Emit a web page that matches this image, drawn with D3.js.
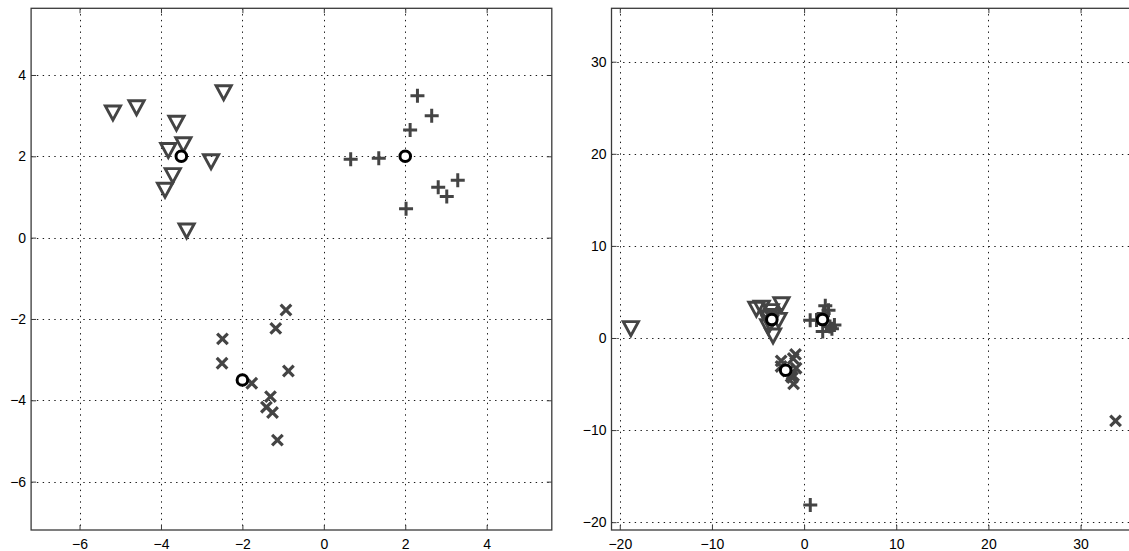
<!DOCTYPE html>
<html>
<head>
<meta charset="utf-8">
<script src="https://cdn.jsdelivr.net/npm/d3@7"></script>
<style>
  html, body { margin: 0; padding: 0; background: #fff; }
  svg { display: block; }
  .tick text { font-family: "Liberation Sans", Arial, Helvetica, sans-serif; font-size: 14px; fill: #000; }
</style>
</head>
<body>
<svg id="fig" width="1129" height="551"></svg>
<script>
// Class 1 samples (downward triangles)
const triX = [-5.18, -4.60, -2.46, -3.62, -3.45, -3.82, -2.77, -3.71, -3.90, -3.37, -18.8];
const triY = [3.05, 3.18, 3.55, 2.80, 2.27, 2.13, 1.85, 1.51, 1.15, 0.15, 0.95];
// Class 2 samples (plus signs)
const plusX = [2.30, 2.65, 2.12, 0.66, 1.35, 3.29, 2.81, 3.02, 2.02, 0.67];
const plusY = [3.49, 3.00, 2.65, 1.93, 1.95, 1.41, 1.24, 1.01, 0.71, -18.13];
// Class 3 samples (crosses)
const crossX = [-0.93, -1.18, -2.49, -2.50, -0.87, -1.77, -1.31, -1.41, -1.26, -1.14, 33.8];
const crossY = [-1.78, -2.23, -2.49, -3.09, -3.28, -3.58, -3.91, -4.17, -4.30, -4.98, -9.0];
// Cluster centres (circles)
const centerX = [-3.5, 2, -2];
const centerY = [2, 2, -3.5];
// Tick values
const leftTicks = [-6, -4, -2, 0, 2, 4];
const rightTicks = [-20, -10, 0, 10, 20, 30];

const svg = d3.select("#fig");
const markColor = "#444444";
const axisColor = "#3a3a3a";

const zip = (xs, ys) => xs.map((v, i) => [v, ys[i]]);

const symbols = {
  tri: "M-7.6,-7.6L7.6,-7.6L0,6.4Z",
  plus: "M-7,0H7M0,-7V7",
  cross: "M-5.3,-5.3L5.3,5.3M-5.3,5.3L5.3,-5.3"
};

function panel(id, xDom, yDom, xRange, yRange, ticks) {
  const x = d3.scaleLinear().domain(xDom).range(xRange);
  const y = d3.scaleLinear().domain(yDom).range(yRange);
  const g = svg.append("g");
  const [x0, x1] = xRange, [y1, y0] = yRange;

  svg.append("defs").append("clipPath").attr("id", id)
    .append("rect").attr("x", x0).attr("y", y0).attr("width", x1 - x0).attr("height", y1 - y0);

  // dotted grid
  const grid = g.append("g").attr("stroke", "#1a1a1a").attr("stroke-width", 1)
    .attr("stroke-dasharray", "1.4,4.4").attr("fill", "none");
  grid.selectAll("line.v").data(ticks).join("line").attr("class", "v")
    .attr("x1", d => Math.round(x(d)) + 0.5).attr("x2", d => Math.round(x(d)) + 0.5)
    .attr("y1", y0).attr("y2", y1);
  grid.selectAll("line.h").data(ticks).join("line").attr("class", "h")
    .attr("y1", d => Math.round(y(d)) + 0.5).attr("y2", d => Math.round(y(d)) + 0.5)
    .attr("x1", x0).attr("x2", x1);

  // axes with inward ticks on all four sides
  const styleAxis = sel => {
    sel.select(".domain").remove();
    sel.selectAll(".tick line").attr("stroke", axisColor).attr("stroke-width", 1);
  };
  g.append("g").attr("transform", `translate(0,${y1})`)
    .call(d3.axisBottom(x).tickValues(ticks).tickSizeInner(-5).tickSizeOuter(0).tickPadding(9))
    .call(styleAxis);
  g.append("g").attr("transform", `translate(0,${y0})`)
    .call(d3.axisTop(x).tickValues(ticks).tickSizeInner(-5).tickSizeOuter(0).tickFormat(""))
    .call(styleAxis);
  g.append("g").attr("transform", `translate(${x0},0)`)
    .call(d3.axisLeft(y).tickValues(ticks).tickSizeInner(-5).tickSizeOuter(0).tickPadding(5))
    .call(styleAxis);
  g.append("g").attr("transform", `translate(${x1},0)`)
    .call(d3.axisRight(y).tickValues(ticks).tickSizeInner(-5).tickSizeOuter(0).tickFormat(""))
    .call(styleAxis);
  g.selectAll(".tick text").attr("fill", "#000");

  // box
  g.append("rect").attr("x", x0).attr("y", y0).attr("width", x1 - x0).attr("height", y1 - y0)
    .attr("fill", "none").attr("stroke", axisColor).attr("stroke-width", 1.3);

  const marks = g.append("g").attr("clip-path", `url(#${id})`);

  const drawSeries = (pts, path, sw) => {
    marks.append("g").selectAll("path").data(pts).join("path")
      .attr("transform", d => `translate(${x(d[0])},${y(d[1])})`)
      .attr("d", path)
      .attr("fill", "none")
      .attr("stroke", markColor)
      .attr("stroke-width", sw)
      .attr("stroke-linejoin", "miter");
  };
  drawSeries(zip(triX, triY), symbols.tri, 2.9);
  drawSeries(zip(plusX, plusY), symbols.plus, 3);
  drawSeries(zip(crossX, crossY), symbols.cross, 3.2);

  marks.append("g").selectAll("circle").data(zip(centerX, centerY)).join("circle")
    .attr("cx", d => x(d[0])).attr("cy", d => y(d[1])).attr("r", 5.3)
    .attr("fill", "#fff").attr("stroke", "#000").attr("stroke-width", 3);
}

// zoomed view of the three clusters
panel("clipL", [-7.19, 5.6], [-7.19, 5.64], [31.1, 551.8], [530, 8.3], leftTicks);
// full view including the outlying samples
panel("clipR", [-20.9, 35.8], [-20.85, 35.8], [611.5, 1134], [530, 8.3], rightTicks);
</script>
</body>
</html>
